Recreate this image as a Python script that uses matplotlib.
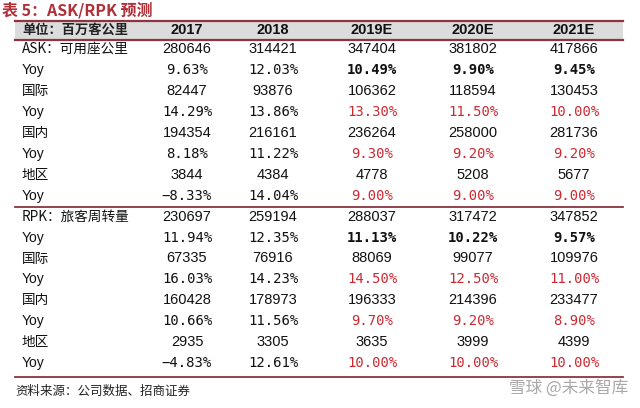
import matplotlib
matplotlib.use("Agg")
import matplotlib.pyplot as plt
from matplotlib.patches import Rectangle

plt.rcParams['font.family'] = ['Noto Sans CJK SC', 'DejaVu Sans']

title = "表 5：ASK/RPK 预测"
unit_label = "单位：百万客公里"
columns = ["2017", "2018", "2019E", "2020E", "2021E"]
row_labels = ["ASK：可用座公里", "Yoy", "国际", "Yoy", "国内", "Yoy", "地区", "Yoy",
              "RPK：旅客周转量", "Yoy", "国际", "Yoy", "国内", "Yoy", "地区", "Yoy"]

ask_total = [280646, 314421, 347404, 381802, 417866]
ask_total_yoy = [9.63, 12.03, 10.49, 9.90, 9.45]
ask_intl = [82447, 93876, 106362, 118594, 130453]
ask_intl_yoy = [14.29, 13.86, 13.30, 11.50, 10.00]
ask_dom = [194354, 216161, 236264, 258000, 281736]
ask_dom_yoy = [8.18, 11.22, 9.30, 9.20, 9.20]
ask_reg = [3844, 4384, 4778, 5208, 5677]
ask_reg_yoy = [-8.33, 14.04, 9.00, 9.00, 9.00]
rpk_total = [230697, 259194, 288037, 317472, 347852]
rpk_total_yoy = [11.94, 12.35, 11.13, 10.22, 9.57]
rpk_intl = [67335, 76916, 88069, 99077, 109976]
rpk_intl_yoy = [16.03, 14.23, 14.50, 12.50, 11.00]
rpk_dom = [160428, 178973, 196333, 214396, 233477]
rpk_dom_yoy = [10.66, 11.56, 9.70, 9.20, 8.90]
rpk_reg = [2935, 3305, 3635, 3999, 4399]
rpk_reg_yoy = [-4.83, 12.61, 10.00, 10.00, 10.00]

source = "资料来源：公司数据、招商证券"
watermark = "雪球 @未来智库"

rows = [ask_total, ask_total_yoy, ask_intl, ask_intl_yoy, ask_dom, ask_dom_yoy, ask_reg, ask_reg_yoy,
        rpk_total, rpk_total_yoy, rpk_intl, rpk_intl_yoy, rpk_dom, rpk_dom_yoy, rpk_reg, rpk_reg_yoy]
n_actual = 2  # 2017, 2018 actual

fig = plt.figure(figsize=(6.4, 4.08), dpi=100)
ax = fig.add_axes([0, 0, 1, 1])
ax.set_xlim(0, 640)
ax.set_ylim(408, 0)
ax.axis('off')

line_c = '#8c3440'
red = '#cc2a33'
title_c = '#b03038'

ax.text(2, 10, title, color=title_c, fontsize=11.5, fontweight='bold', va='center', ha='left')

x0, x1 = 15, 623
ax.add_patch(Rectangle((x0, 20.5), x1 - x0, 19.5, facecolor='#dcdcdc', edgecolor='none'))
ax.plot([x0, x1], [20.5, 20.5], color=line_c, lw=1.6)
ax.plot([x0, x1], [40, 40], color=line_c, lw=1.6)
ax.text(22, 30, unit_label, fontsize=9.5, fontweight='bold', va='center', ha='left', color='#222222')

col_x = [187, 273, 372, 473, 574]
for cx, c in zip(col_x, columns):
    ax.text(cx, 30, c, fontsize=10.5, fontweight='bold', va='center', ha='center',
            family=['Liberation Sans'], color='#111111')

row_y0, dy = 49, 20.95
for i, (lab, vals) in enumerate(zip(row_labels, rows)):
    y = row_y0 + i * dy
    is_yoy = (i % 2 == 1)
    if lab == "Yoy":
        ax.text(22, y, lab, fontsize=10, va='center', ha='left', family=['Liberation Sans'], color='#111111')
    else:
        ax.text(22, y, lab, fontsize=9.8, va='center', ha='left', color='#111111')
    for j, (cx, v) in enumerate(zip(col_x, vals)):
        if not is_yoy:
            ax.text(cx, y, f"{v}", fontsize=10.5, va='center', ha='center',
                    family=['Liberation Sans'], color='#111111')
        else:
            s = f"{v:.2f}%".replace('-', '\u2212')
            if j >= n_actual and i in (1, 9):
                ax.text(cx, y, s, fontsize=10, fontweight='bold', va='center', ha='center',
                        family=['DejaVu Sans Mono'], color='#111111')
            else:
                color = red if j >= n_actual else '#111111'
                ax.text(cx, y, s, fontsize=10, va='center', ha='center',
                        family=['DejaVu Sans Mono'], color=color)

ax.plot([x0, x1], [206.5, 206.5], color=line_c, lw=1.3)
ax.plot([x0, x1], [376.5, 376.5], color=line_c, lw=1.3)

ax.text(15, 391, source, fontsize=9, va='center', ha='left', color='#222222')
ax.text(628, 388, watermark, fontsize=12, va='center', ha='right', color='#9a9a9a', alpha=0.85)

fig.savefig('out.png', dpi=100)
